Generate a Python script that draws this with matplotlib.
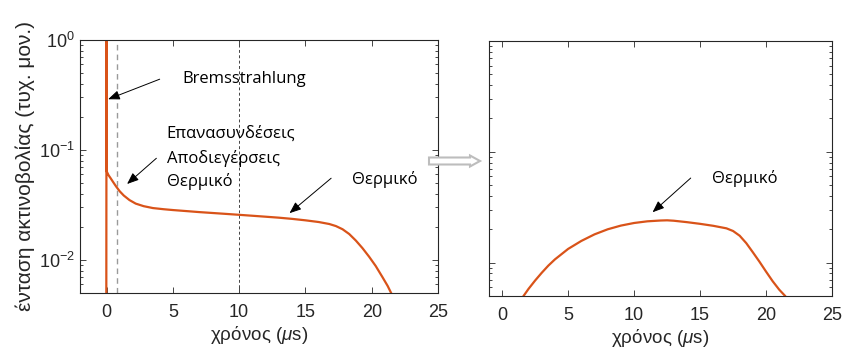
import matplotlib
matplotlib.use("Agg")
import matplotlib.pyplot as plt
from matplotlib.patches import FancyArrow
from matplotlib.ticker import LogLocator, NullFormatter

plt.rcParams["font.family"] = ["Liberation Sans", "DejaVu Sans"]
plt.rcParams["mathtext.fontset"] = "custom"
plt.rcParams["mathtext.rm"] = "Liberation Sans"
plt.rcParams["mathtext.it"] = "Liberation Sans:italic"

# Total emission (spike at t=0 followed by the slow decay)
t_total = [-0.02, 0.0, 0.02, 0.15, 0.3, 0.5, 0.73, 1.0, 1.3, 1.73, 2.2, 2.8,
           3.5, 4.3, 5.0, 6.0, 7.0, 8.0, 9.0, 10.0, 11.0, 12.0, 13.0, 14.0,
           15.0, 16.0, 16.8, 17.3, 17.8, 18.3, 18.8, 19.3, 19.8, 20.3, 20.8,
           21.2, 21.5, 21.6]
i_total = [0.001, 1.0, 0.0635, 0.059, 0.0555, 0.051, 0.0464, 0.042, 0.0385,
           0.035, 0.0325, 0.0308, 0.0296, 0.0289, 0.0284, 0.0278, 0.0272,
           0.0267, 0.0262, 0.0257, 0.0252, 0.0247, 0.0242, 0.0236, 0.0229,
           0.0221, 0.0212, 0.0203, 0.0190, 0.0172, 0.0150, 0.0128, 0.0107,
           0.0088, 0.0070, 0.0058, 0.0049, 0.0046]

# Thermal component alone
t_thermal = [1.62, 2.0, 2.5, 3.0, 3.5, 4.0, 5.0, 6.0, 7.0, 8.0, 9.0, 10.0,
             11.0, 12.0, 12.5, 13.0, 14.0, 15.0, 16.0, 17.0, 17.5, 18.0, 18.5,
             19.0, 19.5, 20.0, 20.5, 21.0, 21.45, 21.6]
i_thermal = [0.0050, 0.0058, 0.0069, 0.0081, 0.0094, 0.0107, 0.0133, 0.0157,
             0.0180, 0.0200, 0.0216, 0.0228, 0.0236, 0.0240, 0.0241, 0.0239,
             0.0232, 0.0224, 0.0215, 0.0204, 0.0193, 0.0175, 0.0150, 0.0124,
             0.0102, 0.0083, 0.0068, 0.0057, 0.0050, 0.0047]

x_ticks = [0, 5, 10, 15, 20, 25]
marker_lines = [0.8, 10.0]

LINE = "#D95319"
AX = "#262626"

fig = plt.figure(figsize=(8.43, 3.56), dpi=100)
ax1 = fig.add_axes([0.0949, 0.177, 0.4247, 0.7107])
ax2 = fig.add_axes([0.580, 0.1685, 0.407, 0.7163])


def style(ax, xlim):
    ax.set_yscale("log")
    ax.set_xlim(*xlim)
    ax.set_ylim(0.005, 1)
    ax.set_xticks(x_ticks)
    ax.yaxis.set_minor_locator(LogLocator(base=10, subs=range(2, 10)))
    ax.yaxis.set_minor_formatter(NullFormatter())
    ax.tick_params(which="both", direction="in", top=True, right=True,
                   colors=AX, labelsize=13, width=0.6)
    ax.tick_params(which="major", length=4)
    ax.tick_params(which="minor", length=2.5)
    ax.tick_params(axis="x", which="major", pad=8)
    for s in ax.spines.values():
        s.set_color(AX)
        s.set_linewidth(0.8)
    ax.set_xlabel(r"χρόνος ($\mu$s)", fontsize=13.5, color=AX, labelpad=2)


style(ax1, (-2, 25))
style(ax2, (-1, 25))
ax2.tick_params(axis="y", which="both", labelleft=False)

ax1.set_ylabel("ένταση ακτινοβολίας (τυχ. μον.)", fontsize=15, color=AX,
               labelpad=3)

ax1.axvline(marker_lines[0], color="#9a9a9a", lw=1.0, dashes=(4, 3))
ax1.axvline(marker_lines[1], color="#444444", lw=0.7, dashes=(3, 2.5))

ax1.plot(t_total, i_total, color=LINE, lw=1.6)
ax2.plot(t_thermal, i_thermal, color=LINE, lw=1.6)

label_font = dict(family=["Open Sans", "DejaVu Sans"], fontsize=12,
                  color="black", ha="left", va="center")
arrow = dict(arrowstyle="-|>,head_length=0.7,head_width=0.28", color="black",
             lw=0.7, mutation_scale=10, shrinkA=0, shrinkB=0)

ax1.text(5.75, 0.442, "Bremsstrahlung", **label_font)
ax1.text(4.54, 0.140, "Επανασυνδέσεις", **label_font)
ax1.text(4.54, 0.0828, "Αποδιεγέρσεις", **label_font)
ax1.text(4.54, 0.0512, "Θερμικό", **label_font)
ax1.text(18.55, 0.0534, "Θερμικό", **label_font)
ax2.text(15.9, 0.057, "Θερμικό", **label_font)

ax1.annotate("", xy=(0.12, 0.289), xytext=(4.01, 0.44), arrowprops=arrow)
ax1.annotate("", xy=(1.55, 0.049), xytext=(3.76, 0.084), arrowprops=arrow)
ax1.annotate("", xy=(13.8, 0.0266), xytext=(16.94, 0.0553), arrowprops=arrow)
ax2.annotate("", xy=(11.4, 0.0285), xytext=(14.29, 0.058), arrowprops=arrow)

# hollow connector arrow between the two panels
fig.add_artist(FancyArrow(4.29, 1.95, 0.51, 0.0, width=0.07, head_width=0.11,
                          head_length=0.1, length_includes_head=True,
                          transform=fig.dpi_scale_trans, facecolor="white",
                          edgecolor="#bdbdbd", lw=1.5))

fig.savefig("out.png", dpi=100)
